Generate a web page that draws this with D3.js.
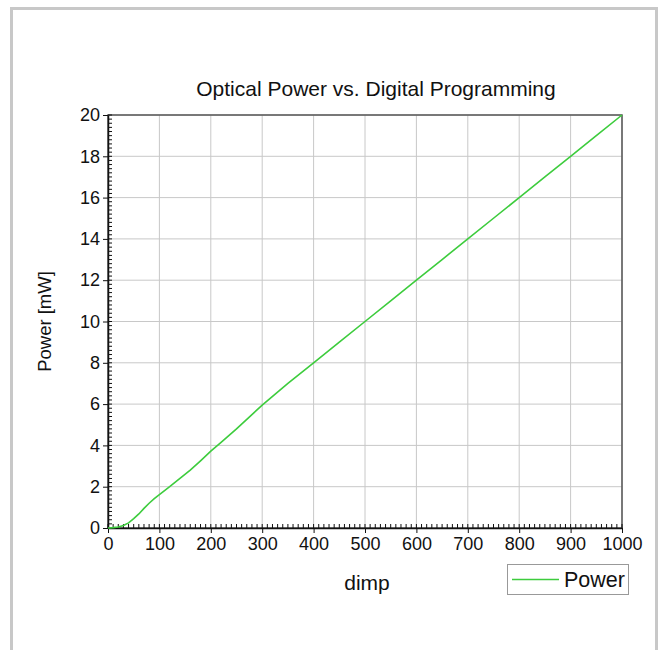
<!DOCTYPE html>
<html><head><meta charset="utf-8">
<script src="https://cdn.jsdelivr.net/npm/d3@7"></script>
<style>body{margin:0;background:#fff}svg{display:block}text{font-family:"Liberation Sans",Arial,sans-serif;fill:#111}</style>
</head><body>
<svg id="c" width="665" height="650"></svg>
<script>
const dimp = [0,10,20,30,40,50,60,70,80,90,100,120,140,160,180,200,220,250,300,350,400,450,500,550,600,650,700,750,800,850,900,950,1000];
const power = [0,0.02,0.05,0.12,0.25,0.45,0.68,0.95,1.2,1.42,1.62,2.0,2.4,2.8,3.25,3.72,4.15,4.8,5.95,7.0,8.0,9.0,10.0,11.0,12.0,13.0,14.0,15.0,16.0,17.0,18.0,19.0,20.0];
const xTicks = [0,100,200,300,400,500,600,700,800,900,1000];
const yTicks = [0,2,4,6,8,10,12,14,16,18,20];
const seriesName = "Power";
const title = "Optical Power vs. Digital Programming";
const xLabel = "dimp", yLabel = "Power [mW]";

const svg = d3.select("#c");
const L=108,R=622,T=115,B=528;
const x = d3.scaleLinear().domain([0,1000]).range([L,R]);
const y = d3.scaleLinear().domain([0,20]).range([B,T]);

// outer frame
svg.append("rect").attr("x",11.5).attr("y",8.5).attr("width",645).attr("height",660)
  .attr("fill","none").attr("stroke","#c8c8c8").attr("stroke-width",3);

// grid
svg.append("g").selectAll("line").data(xTicks).join("line")
  .attr("x1",d=>x(d)).attr("x2",d=>x(d)).attr("y1",T).attr("y2",B).attr("stroke","#c8c8c8");
svg.append("g").selectAll("line").data(yTicks).join("line")
  .attr("y1",d=>y(d)).attr("y2",d=>y(d)).attr("x1",L).attr("x2",R).attr("stroke","#c8c8c8");

// plot border
svg.append("rect").attr("x",L).attr("y",T).attr("width",R-L).attr("height",B-T)
  .attr("fill","none").attr("stroke","#555").attr("stroke-width",1.5);

// minor ticks
svg.append("g").selectAll("line").data(d3.range(0,1001,10)).join("line")
  .attr("x1",d=>x(d)).attr("x2",d=>x(d)).attr("y1",B).attr("y2",B-4).attr("stroke","#111");
svg.append("g").selectAll("line").data(d3.range(0,100.5,1).map(i=>i*0.2)).join("line")
  .attr("y1",d=>y(d)).attr("y2",d=>y(d)).attr("x1",L).attr("x2",L+4).attr("stroke","#111");

// axes
const xAxis = svg.append("g").attr("transform",`translate(0,${B})`)
  .call(d3.axisBottom(x).tickValues(xTicks).tickFormat(d3.format("d")).tickSize(5).tickSizeOuter(0).tickPadding(4));
const yAxis = svg.append("g").attr("transform",`translate(${L},0)`)
  .call(d3.axisLeft(y).tickValues(yTicks).tickFormat(d3.format("d")).tickSize(5).tickSizeOuter(0).tickPadding(3));
[xAxis,yAxis].forEach(a=>{
  a.selectAll("path").attr("stroke","#111").attr("stroke-width",1.5);
  a.selectAll("line").attr("stroke","#111");
  a.selectAll("text").attr("font-size",18).attr("font-family","Liberation Sans, Arial, sans-serif").attr("fill","#111");
});

// line
svg.append("path").datum(dimp.map((d,i)=>[d,power[i]]))
  .attr("fill","none").attr("stroke","#3dcc3d").attr("stroke-width",1.6)
  .attr("d",d3.line().x(d=>x(d[0])).y(d=>y(d[1])));

// title & labels
svg.append("text").attr("x",376).attr("y",96).attr("text-anchor","middle").attr("font-size",21).text(title);
svg.append("text").attr("x",367).attr("y",590).attr("text-anchor","middle").attr("font-size",21).text(xLabel);
svg.append("text").attr("transform",`translate(51,${(T+B)/2}) rotate(-90)`).attr("text-anchor","middle").attr("font-size",18.5).text(yLabel);

// legend
const lg = svg.append("g");
lg.append("rect").attr("x",507.5).attr("y",564.5).attr("width",121).attr("height",30)
  .attr("fill","#fff").attr("stroke","#999");
lg.append("line").attr("x1",512).attr("x2",559).attr("y1",579.5).attr("y2",579.5).attr("stroke","#3dcc3d").attr("stroke-width",1.6);
lg.append("text").attr("x",564).attr("y",587).attr("font-size",21.5).text(seriesName);
</script>
</body></html>
